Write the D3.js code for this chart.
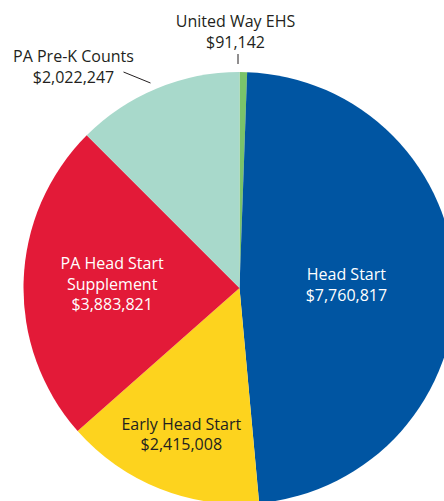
<!DOCTYPE html>
<html>
<head>
<meta charset="utf-8">
<script src="https://cdn.jsdelivr.net/npm/d3@7"></script>
<style>
  body { margin: 0; background: #fff; }
  text { font-family: "Open Sans", "Noto Sans", sans-serif; }
</style>
</head>
<body>
<script>
// data, clockwise from 12 o'clock
var categories = ["United Way EHS", "Head Start", "Early Head Start", "PA Head Start Supplement", "PA Pre-K Counts"];
var values = [91142, 7760817, 2415008, 3883821, 2022247];
var labelLines = [["United Way EHS"], ["Head Start"], ["Early Head Start"], ["PA Head Start", "Supplement"], ["PA Pre-K Counts"]];

var colors = ["#7ac36a", "#0055a2", "#fdd31e", "#e31a38", "#a8d9cb"];
var textColors = ["#231f20", "#ffffff", "#231f20", "#ffffff", "#231f20"];

var width = 444, height = 501;
var cx = 239.5, cy = 288, R = 216;

var svg = d3.select("body").append("svg").attr("width", width).attr("height", height);
var g = svg.append("g").attr("transform", "translate(" + cx + "," + cy + ")");

var data = categories.map(function(c, i){ return { name: c, value: values[i], lines: labelLines[i], i: i }; });

var pie = d3.pie().sort(null).value(function(d){ return d.value; });
var arcs = pie(data);
var arc = d3.arc().innerRadius(0).outerRadius(R);

g.selectAll("path.slice").data(arcs).enter().append("path")
  .attr("class", "slice")
  .attr("d", arc)
  .attr("fill", function(d){ return colors[d.data.i]; });

var fmt = d3.format("$,");

// label placement: inside slices use a radius factor, the two thin ones sit outside with a leader
var labelRadius = [0, 0.495, 0.73, 0.59, 0];
var labelPos = { 0: [-4, -256], 4: [-166, -221] };
var leaders = { 0: [-1.5, -234, -1.5, -224], 4: [-116, -216, -89, -205] };

function polar(angle, r){ return [Math.sin(angle)*r, -Math.cos(angle)*r]; }

arcs.forEach(function(a){
  var i = a.data.i;
  var mid = (a.startAngle + a.endAngle)/2;
  var lines = a.data.lines.concat([fmt(a.data.value)]);
  var x, y;
  if(labelRadius[i] > 0){
    var p = polar(mid, labelRadius[i]*R);
    x = p[0]; y = p[1];
  } else {
    x = labelPos[i][0]; y = labelPos[i][1];
    var l = leaders[i];
    g.append("line")
      .attr("x1", l[0]).attr("y1", l[1]).attr("x2", l[2]).attr("y2", l[3])
      .attr("stroke", "#231f20").attr("stroke-width", 1);
  }
  var lh = 20.5;
  var t = g.append("text")
    .attr("text-anchor", "middle")
    .attr("font-size", 16)
    .attr("fill", textColors[i]);
  lines.forEach(function(s, k){
    t.append("tspan")
      .attr("x", x)
      .attr("y", y + (k - (lines.length - 1)/2)*lh)
      .attr("dy", "0.35em")
      .text(s);
  });
});
</script>
</body>
</html>
